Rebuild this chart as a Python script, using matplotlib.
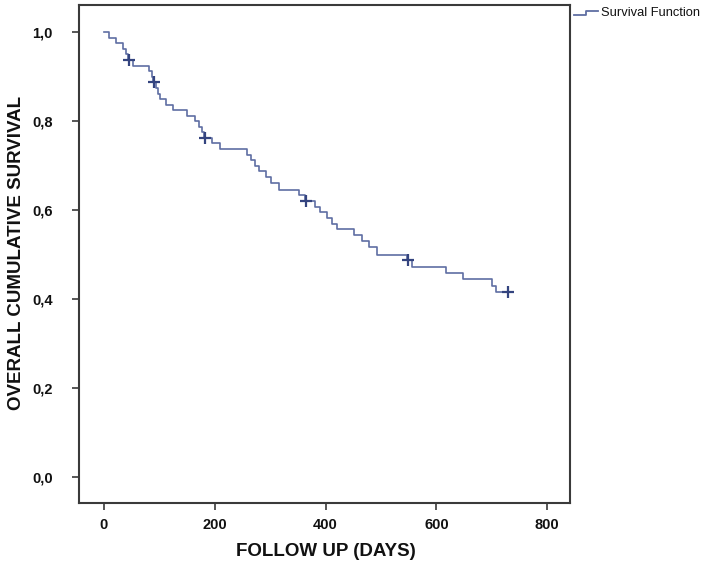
import numpy as np
import matplotlib
matplotlib.use("Agg")
import matplotlib.pyplot as plt
from matplotlib.lines import Line2D

# ---- data ----
event_times = [0, 10, 22, 34, 40, 44, 52, 82, 86, 89, 94, 98, 102, 112, 125, 150,
               165, 172, 177, 181, 195, 210, 258, 265, 272, 280, 292, 302, 316, 352,
               362, 380, 390, 402, 412, 420, 452, 465, 478, 492, 546, 556, 618, 648,
               701, 708, 730]
survival = [1.0, 0.9875, 0.975, 0.9625, 0.95, 0.9375, 0.925, 0.9125, 0.9, 0.8875,
            0.875, 0.862, 0.85, 0.837, 0.825, 0.812, 0.80, 0.787, 0.775, 0.762,
            0.75, 0.7375, 0.725, 0.712, 0.70, 0.687, 0.675, 0.662, 0.645, 0.633,
            0.62, 0.608, 0.595, 0.583, 0.57, 0.557, 0.544, 0.531, 0.518, 0.5,
            0.487, 0.473, 0.459, 0.445, 0.43, 0.416, 0.416]
censor_times = [45, 90, 182, 365, 548, 730]
x_ticks = [0, 200, 400, 600, 800]
y_ticks = [0.0, 0.2, 0.4, 0.6, 0.8, 1.0]
y_tick_labels = ["0,0", "0,2", "0,4", "0,6", "0,8", "1,0"]

# ---- figure ----
plt.rcParams['font.family'] = ['Liberation Sans', 'DejaVu Sans']
fig = plt.figure(figsize=(7.09, 5.68), dpi=100)
ax = fig.add_axes([79/709, 1-503/568, (570-79)/709, (503-5)/568])

line_col = '#5f6ea3'
mark_col = '#34447f'

ax.step(event_times, survival, where='post', color=line_col, lw=1.2)
et = np.array(event_times)
sv = np.array(survival)
idx = np.searchsorted(et, censor_times, side='right') - 1
ax.plot(censor_times, sv[idx], linestyle='none', marker='+', markersize=9,
        markeredgewidth=1.6, color=mark_col)

ax.set_xlim(-45, 841)
ax.set_ylim(-0.058, 1.061)
ax.set_xticks(x_ticks)
ax.set_xticklabels([str(v) for v in x_ticks])
ax.set_yticks(y_ticks)
ax.set_yticklabels(y_tick_labels)

for s in ax.spines.values():
    s.set_color('#3a3a3a')
    s.set_linewidth(1.5)
ax.tick_params(axis='both', direction='out', length=5, width=1.2, color='#3a3a3a',
               labelsize=10.5, labelcolor='#111111')
ax.tick_params(axis='y', pad=14)
ax.tick_params(axis='x', pad=6)
for lab in ax.get_xticklabels() + ax.get_yticklabels():
    lab.set_fontweight('bold')

ax.set_xlabel("FOLLOW UP (DAYS)", fontsize=13.5, fontweight='bold', color='#111111')
ax.set_ylabel("OVERALL CUMULATIVE SURVIVAL", fontsize=13.5, fontweight='bold',
              color='#111111')
ax.xaxis.set_label_coords((326-79)/491, -(551-503)/498)
ax.yaxis.set_label_coords((17-79)/491, (503-253)/498)
ax.xaxis.label.set_va('center')
ax.yaxis.label.set_va('center')

# legend (outside, top right)
fx = lambda px: px / 709
fy = lambda py: 1 - py / 568
fig.add_artist(Line2D([fx(574), fx(586), fx(586), fx(598)],
                      [fy(15), fy(15), fy(11), fy(11)],
                      color=line_col, lw=1.3, transform=fig.transFigure))
fig.text(fx(601), fy(13), "Survival Function", fontsize=9.3, color='#111111',
         va='center', ha='left')

fig.savefig("out.png", dpi=100, facecolor='white')
